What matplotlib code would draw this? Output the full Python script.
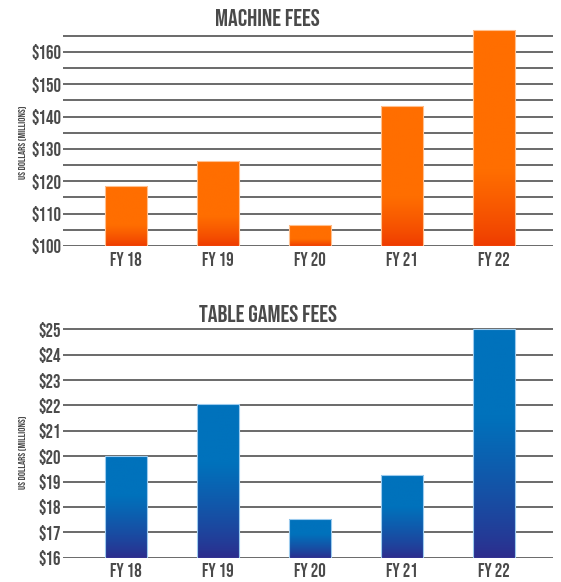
import numpy as np
import matplotlib
matplotlib.use("Agg")
import matplotlib.pyplot as plt
from matplotlib.colors import to_rgb
from matplotlib import font_manager

categories = ["FY 18", "FY 19", "FY 20", "FY 21", "FY 22"]
machine_fees = [118.5, 126.3, 106.4, 143.3, 166.8]
table_fees = [20.02, 22.04, 17.52, 19.26, 25.02]
machine_ticks = [100, 110, 120, 130, 140, 150, 160]
table_ticks = [16, 17, 18, 19, 20, 21, 22, 23, 24, 25]

names = {f.name for f in font_manager.fontManager.ttflist}
FONT = "Bebas Neue" if "Bebas Neue" in names else "DejaVu Sans"
plt.rcParams['font.family'] = [FONT, 'DejaVu Sans']

TEXT = "#4a4a4a"
GRID = "#5e5e5e"

W, H = 561, 582
fig = plt.figure(figsize=(W / 100, H / 100), dpi=100)


def grad_bars(ax, vals, base, top_c, bot_c, frac, edge):
    x = np.arange(len(vals))
    w = 0.46
    bars = ax.bar(x, np.array(vals) - base, bottom=base, width=w, color="none",
                  edgecolor="none", zorder=3)
    n = 256
    t = np.linspace(0, 1, n)  # 0 bottom, 1 top
    s = np.clip(t / frac, 0, 1) ** 0.8
    tc = np.array(to_rgb(top_c))
    bc = np.array(to_rgb(bot_c))
    cols = bc[None, :] * (1 - s[:, None]) + tc[None, :] * s[:, None]
    img = cols[::-1][:, None, :]
    for b, v in zip(bars, vals):
        x0 = b.get_x()
        im = ax.imshow(img, extent=(x0, x0 + w, base, v), aspect="auto",
                       origin="upper", zorder=3, interpolation="bilinear")
        im.set_clip_path(b)
    ax.bar(x, np.array(vals) - base, bottom=base, width=w, color="none",
           edgecolor=edge, linewidth=0.8, zorder=4)


def style(ax, ticks, ylim, grid_vals, label_y):
    ax.set_xlim(-0.685, 4.64)
    ax.set_ylim(*ylim)
    for gv in grid_vals:
        ax.axhline(gv, color=GRID, lw=1.3, zorder=1)
    for s in ax.spines.values():
        s.set_visible(False)
    ax.set_yticks(ticks)
    ax.set_yticklabels([f"${t}" for t in ticks], fontsize=13.5, color=TEXT)
    ax.set_xticks(range(len(categories)))
    ax.set_xticklabels(categories, fontsize=13.5, color=TEXT)
    ax.tick_params(axis="y", length=0, pad=1.5)
    ax.tick_params(axis="x", length=0, pad=4)
    ax.set_ylabel("US DOLLARS (MILLIONS)", fontsize=7.5, color=TEXT)
    ax.yaxis.set_label_coords(-0.076, label_y)
    ax.patch.set_alpha(0)


ax1 = fig.add_axes([63 / W, 1 - 246 / H, 490 / W, 220 / H])
grad_bars(ax1, machine_fees, 100, "#ff6e00", "#ee3a00", 0.35, "#ffc08f")
style(ax1, machine_ticks, (100, 168), list(range(100, 166, 5)), 0.47)
fig.text(267 / W, 1 - 26.5 / H, "MACHINE FEES", fontsize=17.5, color=TEXT,
         ha="center", va="baseline")

ax2 = fig.add_axes([63 / W, 1 - 557.7 / H, 490 / W, 233.4 / H])
grad_bars(ax2, table_fees, 16, "#0072bc", "#2e2b8c", 0.62, "#9ccbee")
style(ax2, table_ticks, (16, 25.2), table_ticks, 0.45)
fig.text(268 / W, 1 - 321.5 / H, "TABLE GAMES FEES", fontsize=17.5, color=TEXT,
         ha="center", va="baseline")

fig.savefig("out.png", dpi=100)
